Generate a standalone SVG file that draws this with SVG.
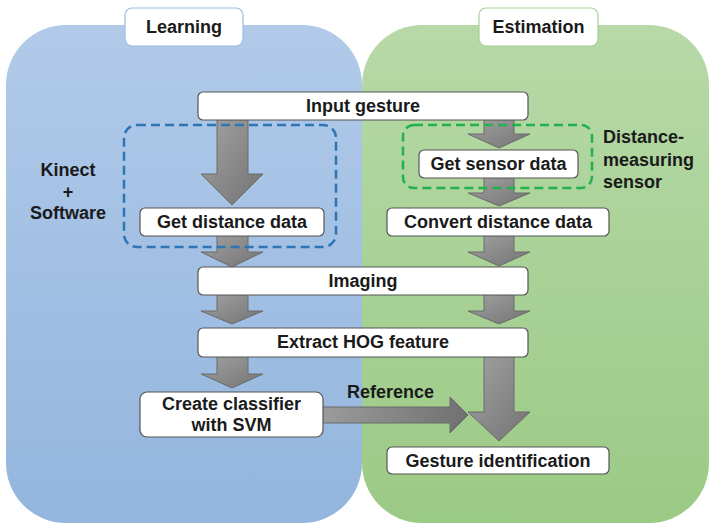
<svg xmlns="http://www.w3.org/2000/svg" width="710" height="524" viewBox="0 0 710 524">
<defs>
<linearGradient id="gBlue" x1="0" y1="0" x2="0" y2="1"><stop offset="0" stop-color="#b1cae9"/><stop offset="1" stop-color="#93b5de"/></linearGradient>
<linearGradient id="gGreen" x1="0" y1="0" x2="0" y2="1"><stop offset="0" stop-color="#b7d9a8"/><stop offset="1" stop-color="#9bca85"/></linearGradient>
<linearGradient id="gArrow" x1="0" y1="0" x2="1" y2="1"><stop offset="0" stop-color="#a3a3a3"/><stop offset="1" stop-color="#737373"/></linearGradient>
<linearGradient id="gRef" x1="0" y1="0" x2="1" y2="0"><stop offset="0" stop-color="#9c9c9c"/><stop offset="1" stop-color="#707070"/></linearGradient>
</defs>
<style>
.box{fill:#fff;stroke:#555;stroke-width:1.2}
.tabB{fill:#fff;stroke:#9dbbe3;stroke-width:1.2}
.tabG{fill:#fff;stroke:#a6d096;stroke-width:1.2}
.arr{fill:url(#gArrow);stroke:#6a6a6a;stroke-width:1}
.t{font-family:"Liberation Sans",Arial,sans-serif;font-weight:bold;font-size:18px;fill:#1a1a1a;text-anchor:middle;dominant-baseline:central}
.tl{font-family:"Liberation Sans",Arial,sans-serif;font-weight:bold;font-size:18px;fill:#1a1a1a;text-anchor:start;dominant-baseline:central}
.dash{fill:none;stroke-width:2.5;stroke-dasharray:9 5}
</style>
<g id="panel-learning">
<rect x="6" y="25" width="356" height="498" rx="60" fill="url(#gBlue)"/>
</g>
<g id="panel-estimation">
<rect x="362" y="25" width="347" height="498" rx="60" fill="url(#gGreen)"/>
</g>
<g id="tab-learning"><rect class="tabB" x="125" y="8" width="118" height="38" rx="7"/><text class="t" x="184" y="27">Learning</text></g>
<g id="tab-estimation"><rect class="tabG" x="479" y="8" width="119" height="38" rx="7"/><text class="t" x="538.5" y="27">Estimation</text></g>
<g id="connectors">
<polygon class="arr" points="217,118 248,118 248,174 263,174 232,205 201,174 217,174"/>
<polygon class="arr" points="484,118 514,118 514,134 530,134 499,148 468,134 484,134"/>
<polygon class="arr" points="484,176 514,176 514,193 530,193 499,206 468,193 484,193"/>
<polygon class="arr" points="217,234 248,234 248,252 263,252 232,267 201,252 217,252"/>
<polygon class="arr" points="484,234 514,234 514,252 530,252 499,266 468,252 484,252"/>
<polygon class="arr" points="217,293 248,293 248,311 263,311 232,324 201,311 217,311"/>
<polygon class="arr" points="484,293 514,293 514,311 530,311 499,324 468,311 484,311"/>
<polygon class="arr" points="217,355 248,355 248,374 263,374 232,388 201,374 217,374"/>
<polygon class="arr" points="484,355 514,355 514,412 530,412 499,441 468,412 484,412"/>
<polygon points="320,407 450,407 450,397 468,415 450,433 450,423 320,423" fill="url(#gRef)" stroke="#6a6a6a" stroke-width="1"/>
<text class="tl" x="347" y="392">Reference</text>
</g>
<g id="group-kinect">
<rect class="dash" x="124" y="125" width="212" height="122" rx="13" stroke="#2e75b6"/>
<text class="t" x="68" y="170">Kinect</text>
<text class="t" x="68" y="192">+</text>
<text class="t" x="68" y="213">Software</text>
</g>
<g id="group-sensor">
<rect class="dash" x="403" y="125" width="189" height="63" rx="11" stroke="#22b14c"/>
<text class="tl" x="603" y="137">Distance-</text>
<text class="tl" x="603" y="160">measuring</text>
<text class="tl" x="603" y="182">sensor</text>
</g>
<g id="node-input"><rect class="box" x="198" y="92" width="330" height="28" rx="5"/><text class="t" x="363" y="106">Input gesture</text></g>
<g id="node-getdist"><rect class="box" x="140" y="208" width="184" height="28" rx="5"/><text class="t" x="232" y="222">Get distance data</text></g>
<g id="node-sensor"><rect class="box" x="419" y="150" width="159" height="28" rx="5"/><text class="t" x="498.5" y="164">Get sensor data</text></g>
<g id="node-convert"><rect class="box" x="387" y="208" width="222" height="28" rx="5"/><text class="t" x="498" y="222">Convert distance data</text></g>
<g id="node-imaging"><rect class="box" x="198" y="267" width="330" height="28" rx="5"/><text class="t" x="363" y="281">Imaging</text></g>
<g id="node-hog"><rect class="box" x="198" y="328" width="330" height="29" rx="5"/><text class="t" x="363" y="342">Extract HOG feature</text></g>
<g id="node-svm"><rect class="box" x="140" y="392" width="183" height="45" rx="7"/><text class="t" x="231.5" y="404">Create classifier</text><text class="t" x="231.5" y="425">with SVM</text></g>
<g id="node-gesture"><rect class="box" x="387" y="447" width="222" height="27" rx="5"/><text class="t" x="498" y="461">Gesture identification</text></g>
</svg>
